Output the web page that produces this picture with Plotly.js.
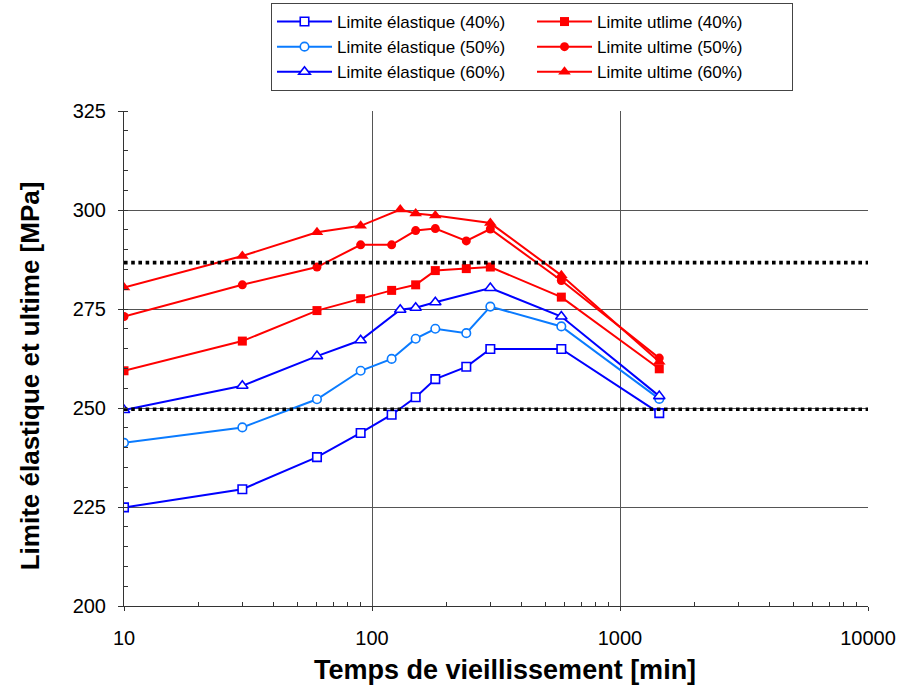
<!DOCTYPE html>
<html>
<head>
<meta charset="utf-8">
<script src="https://cdn.plot.ly/plotly-3.0.1.min.js"></script>
<style>html,body{margin:0;padding:0;background:#fff;}#chart{width:903px;height:687px;}</style>
</head>
<body>
<div id="chart"></div>
<script>
// Aging time [min]
const tE40 = [10, 30, 60, 90, 120, 150, 180, 240, 300, 580, 1440];
const vE40 = [224.9, 229.5, 237.6, 243.7, 248.3, 252.7, 257.3, 260.4, 264.9, 264.9, 248.7];
const tE50 = [10, 30, 60, 90, 120, 150, 180, 240, 300, 580, 1440];
const vE50 = [241.2, 245.1, 252.2, 259.4, 262.4, 267.5, 270.0, 268.9, 275.6, 270.6, 252.3];
const tE60 = [10, 30, 60, 90, 130, 150, 180, 300, 580, 1440];
const vE60 = [249.5, 255.6, 263.1, 267.1, 274.8, 275.3, 276.7, 280.3, 273.1, 253.0];
const tU40 = [10, 30, 60, 90, 120, 150, 180, 240, 300, 580, 1440];
const vU40 = [259.4, 266.9, 274.6, 277.6, 279.7, 281.1, 284.7, 285.2, 285.6, 278.0, 259.9];
const tU50 = [10, 30, 60, 90, 120, 150, 180, 240, 300, 580, 1440];
const vU50 = [273.1, 281.1, 285.6, 291.2, 291.2, 294.8, 295.3, 292.2, 295.2, 282.2, 262.6];
const tU60 = [10, 30, 60, 90, 130, 150, 180, 300, 580, 1440];
const vU60 = [280.4, 288.4, 294.4, 296.0, 300.1, 299.1, 298.6, 296.7, 283.5, 261.7];
// Reference (dotted) levels
const refX = [10, 10000];
const refHigh = 286.7;
const refLow = 249.7;

const names = ['Limite élastique (40%)', 'Limite utlime (40%)', 'Limite élastique (50%)',
               'Limite ultime (50%)', 'Limite élastique (60%)', 'Limite ultime (60%)'];
const xTitle = 'Temps de vieillissement [min]';
const yTitle = 'Limite élastique et ultime [MPa]';

const blue = '#0000FF', lblue = '#0A7BFF', red = '#FF0000';
function openTrace(x, y, name, color, symbol, size) {
  return {x: x, y: y, name: name, type: 'scatter', mode: 'lines+markers',
    line: {color: color, width: 2},
    marker: {symbol: symbol, size: size, color: '#FFFFFF', line: {color: color, width: 1.6}}};
}
function fullTrace(x, y, name, color, symbol, size) {
  return {x: x, y: y, name: name, type: 'scatter', mode: 'lines+markers',
    line: {color: color, width: 2},
    marker: {symbol: symbol, size: size, color: color, line: {width: 0}}};
}
const traces = [
  openTrace(tE40, vE40, names[0], blue, 'square', 8.5),
  fullTrace(tU40, vU40, names[1], red, 'square', 9),
  openTrace(tE50, vE50, names[2], lblue, 'circle', 8.5),
  fullTrace(tU50, vU50, names[3], red, 'circle', 9),
  openTrace(tE60, vE60, names[4], blue, 'triangle-up', 10),
  fullTrace(tU60, vU60, names[5], red, 'triangle-up', 11),
  {x: refX, y: refX.map(() => refHigh), type: 'scatter', mode: 'lines', showlegend: false,
   hoverinfo: 'skip', line: {color: '#000', width: 3.6, dash: '3.6px,3.6px'}},
  {x: refX, y: refX.map(() => refLow), type: 'scatter', mode: 'lines', showlegend: false,
   hoverinfo: 'skip', line: {color: '#000', width: 3.6, dash: '3.6px,3.6px'}}
];

const fontFam = 'Liberation Sans, Arial, sans-serif';
const layout = {
  width: 903, height: 687,
  margin: {l: 124, r: 35, t: 111, b: 81, pad: 0},
  paper_bgcolor: '#fff', plot_bgcolor: '#fff',
  font: {family: fontFam, color: '#000'},
  showlegend: true,
  legend: {
    orientation: 'h', xref: 'container', yref: 'container',
    x: 532 / 903, xanchor: 'center', y: 1 - 3 / 687, yanchor: 'top',
    bgcolor: '#fff', bordercolor: '#444', borderwidth: 1,
    font: {family: fontFam, size: 17, color: '#000'},
    itemwidth: 55, entrywidth: 190, tracegroupgap: 0
  },
  xaxis: {
    type: 'log', range: [1, 4],
    tickvals: [10, 100, 1000, 10000], ticktext: ['10', '100', '1000', '10000'],
    showgrid: true, gridcolor: '#555', gridwidth: 1,
    showline: true, linecolor: '#333', linewidth: 1, mirror: false,
    ticks: 'outside', ticklen: 4, tickcolor: '#333', tickwidth: 1,
    ticklabelstandoff: 10,
    minor: {tickvals: [20,30,40,50,60,70,80,90,200,300,400,500,600,700,800,900,2000,3000,4000,5000,6000,7000,8000,9000],
            ticks: 'inside', ticklen: 4, tickcolor: '#333', showgrid: false},
    tickfont: {family: fontFam, size: 20, color: '#000'},
    zeroline: false
  },
  yaxis: {
    range: [200, 325], dtick: 25, tick0: 200,
    showgrid: true, gridcolor: '#555', gridwidth: 1,
    showline: true, linecolor: '#333', linewidth: 1,
    ticks: 'outside', ticklen: 5, tickcolor: '#333', tickwidth: 1,
    ticklabelstandoff: 8,
    minor: {dtick: 5, ticks: 'inside', ticklen: 4, tickcolor: '#333', showgrid: false},
    tickfont: {family: fontFam, size: 20, color: '#000'},
    zeroline: false
  },
  annotations: [
    {text: xTitle, xref: 'paper', yref: 'paper', x: (505 - 124) / 744, y: (605.5 - 669) / 494.5,
     xanchor: 'center', yanchor: 'middle', showarrow: false,
     font: {family: fontFam, size: 27, color: '#000', weight: 'bold'}},
    {text: yTitle, xref: 'paper', yref: 'paper', x: (30 - 124) / 744, y: (605.5 - 376) / 494.5,
     xanchor: 'center', yanchor: 'middle', textangle: -90, showarrow: false,
     font: {family: fontFam, size: 26, color: '#000', weight: 'bold'}}
  ]
};

Plotly.newPlot('chart', traces, layout, {displayModeBar: false, staticPlot: true});
</script>
</body>
</html>
